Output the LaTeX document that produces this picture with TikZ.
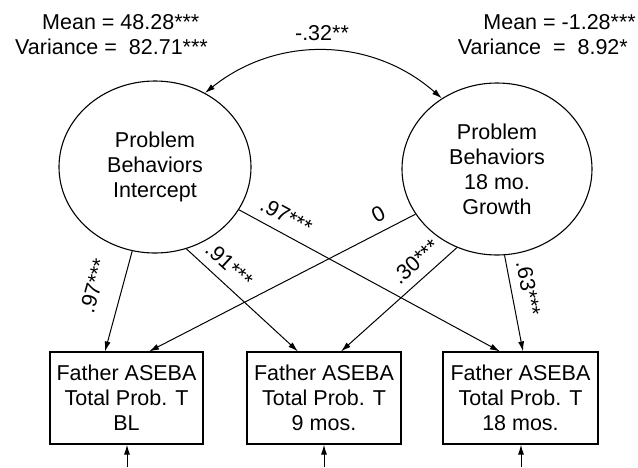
\documentclass[tikz,border=0pt]{standalone}
\usepackage{fontspec}
\setmainfont{Liberation Sans}
\usetikzlibrary{shapes.geometric,arrows.meta}

\begin{document}
\begin{tikzpicture}[x=1pt,y=-1pt,
    font=\fontsize{21.5}{25}\selectfont,
    latent/.style={draw,ellipse,line width=1.1pt,inner sep=0pt,align=center,minimum height=172pt},
    observed/.style={draw,rectangle,line width=1.1pt,inner sep=0pt,align=center,minimum height=92pt},
    path/.style={-{Latex[length=10pt,width=6pt]},line width=1pt},
    cov/.style={{Latex[length=10pt,width=6pt]}-{Latex[length=10pt,width=6pt]},line width=1pt},
    coef/.style={sloped,above=7pt,inner sep=2pt}]
    \useasboundingbox (0,0) rectangle (638,467);

    % Fatores latentes
    \node[latent, minimum width=192pt] (icpt) at (155,167) {Problem\\Behaviors\\Intercept};
    \node[latent, minimum width=190pt] (grow) at (497,169) {Problem\\Behaviors\\18 mo.\\Growth};

    % Medias e variancias
    \node[anchor=west, inner sep=0pt] (icptmean) at (42,22) {Mean = 48.28***};
    \node[anchor=west, inner sep=0pt] (icptvar) at (15,47) {Variance =\ \ 82.71***};
    \node[anchor=east, inner sep=0pt] (growmean) at (636,22) {Mean =\ -1.28***};
    \node[anchor=east, inner sep=0pt] (growvar) at (628,47) {Variance\ \ =\ \ 8.92*};

    % Covariancia entre os fatores
    \draw[cov] (icpt.56) to[bend left=40] (grow.128);
    \node (covlab) at (322,33) {-.32**};

    % Indicadores observados
    \node[observed, minimum width=153pt] (bl) at (126.5,398) {Father ASEBA\\Total Prob. T\\BL};
    \node[observed, minimum width=154pt] (m9) at (324,398) {Father ASEBA\\Total Prob. T\\9 mos.};
    \node[observed, minimum width=155pt] (m18) at (520.5,398) {Father ASEBA\\Total Prob. T\\18 mos.};

    % Cargas do intercepto
    \draw[path] (icpt) -- ([xshift=-21.5pt]bl.north) node[coef, above=11pt, pos=0.42] {.97***};
    \draw[path] (icpt.-69) -- ([xshift=-26pt]m9.north) node[coef, pos=0.28] {.91***};
    \draw[path] (icpt.-27) -- ([xshift=-20.5pt]m18.north) node[coef, pos=0.15] {.97***};

    % Cargas do crescimento
    \draw[path] (grow.-151) -- ([xshift=22.5pt]bl.north) node[coef, pos=0.11] {0};
    \draw[path] (grow.-117) -- ([xshift=17pt]m9.north) node[coef, pos=0.26] {.30***};
    \draw[path] (grow.-85) -- ([xshift=2.5pt]m18.north) node[coef, pos=0.38] {.63***};

    % Erros (setas de baixo)
    \coordinate (errbl) at (127,467);
    \coordinate (errm9) at (324,467);
    \coordinate (errm18) at (521,467);
    \draw[path] (errbl) -- (errbl |- bl.south);
    \draw[path] (errm9) -- (errm9 |- m9.south);
    \draw[path] (errm18) -- (errm18 |- m18.south);

\end{tikzpicture}
\end{document}
